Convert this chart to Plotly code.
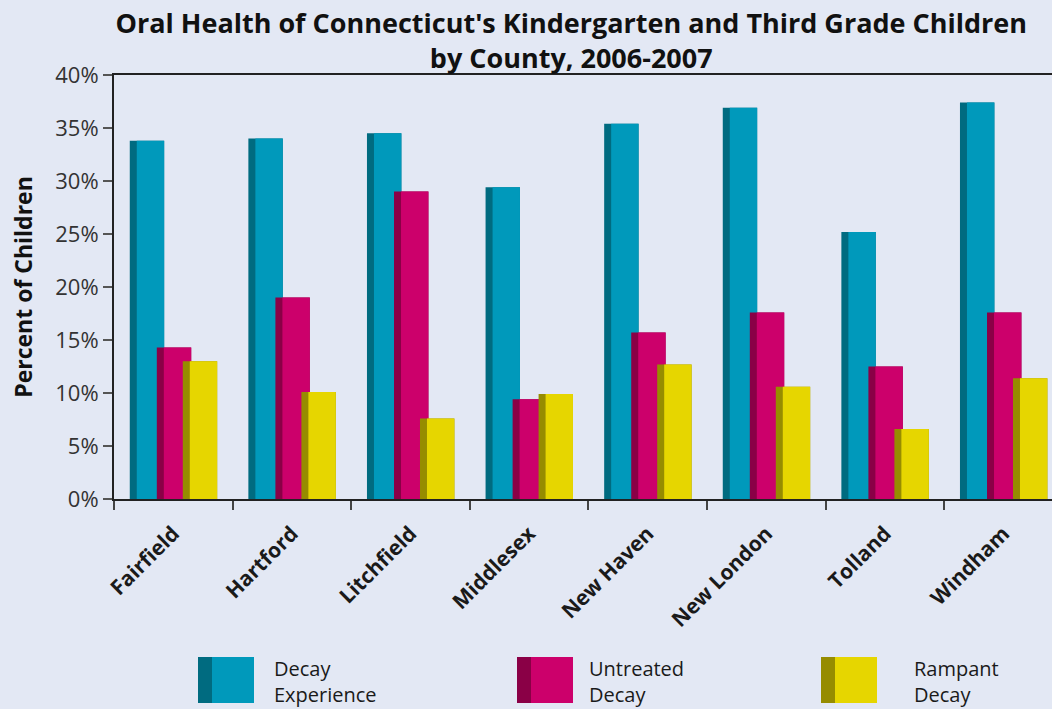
import plotly.graph_objects as go

# Datos (porcentaje de niños)
counties = ["Fairfield", "Hartford", "Litchfield", "Middlesex",
            "New Haven", "New London", "Tolland", "Windham"]
decay_experience = [33.8, 34.0, 34.5, 29.4, 35.4, 36.9, 25.2, 37.4]
untreated_decay = [14.3, 19.0, 29.0, 9.4, 15.7, 17.6, 12.5, 17.6]
rampant_decay = [13.0, 10.1, 7.6, 9.9, 12.7, 10.6, 6.6, 11.4]
y_ticks = [0, 5, 10, 15, 20, 25, 30, 35, 40]
y_tick_labels = [f"{v}%" for v in y_ticks]

BG = "#E3E8F4"
FONT = "Open Sans, Noto Sans, sans-serif"

# (nombre, valores, color claro, color oscuro, desplazamiento)
series = [
    ("Decay<br>Experience", decay_experience, "#0099BB", "#006B80", -0.367),
    ("Untreated<br>Decay", untreated_decay, "#CC006B", "#8A0046", -0.139),
    ("Rampant<br>Decay", rampant_decay, "#E6D600", "#968C00", 0.080),
]
BAR_W = 0.290   # ancho total de la barra (en unidades de categoría)
SIDE_W = 0.059  # cara lateral oscura

x = list(range(len(counties)))
fig = go.Figure()

for name, vals, light, dark, off in series:
    # cara lateral oscura (barra completa debajo)
    fig.add_trace(go.Bar(
        x=x, y=vals, offset=off, width=BAR_W,
        marker=dict(color=dark, line=dict(width=0)),
        showlegend=False, hoverinfo="skip"
    ))
    # cara frontal clara
    fig.add_trace(go.Bar(
        x=x, y=vals, offset=off + SIDE_W, width=BAR_W - SIDE_W,
        marker=dict(color=light, line=dict(width=0)),
        name=name, showlegend=False
    ))

W, H = 1052, 709
L, T, B = 114, 75, 210


def px_x(p):
    return (p - L) / (W - L)


def px_y(p):
    return (H - B - p) / (H - T - B)


# Leyenda dibujada a mano (cuadro bicolor + texto en dos líneas)
legend_x = [198, 517, 821]
legend_text_x = [272, 587, 912]
shapes = []
annotations = []
for (label, _, light, dark, _), lx, tx in zip(series, legend_x, legend_text_x):
    shapes.append(dict(type="rect", xref="paper", yref="paper",
                       x0=px_x(lx), x1=px_x(lx + 14), y0=px_y(703), y1=px_y(657),
                       fillcolor=dark, line=dict(width=0)))
    shapes.append(dict(type="rect", xref="paper", yref="paper",
                       x0=px_x(lx + 14), x1=px_x(lx + 56), y0=px_y(703), y1=px_y(657),
                       fillcolor=light, line=dict(width=0)))
    annotations.append(dict(
        xref="paper", yref="paper", x=px_x(tx), y=px_y(681),
        xanchor="left", yanchor="middle", align="left",
        text=label, showarrow=False,
        font=dict(family=FONT, size=20, color="#1a1a1a")
    ))

fig.update_layout(
    width=W, height=H,
    barmode="overlay",
    paper_bgcolor=BG, plot_bgcolor=BG,
    margin=dict(l=L, r=0, t=T, b=B),
    title=dict(
        text="Oral Health of Connecticut's Kindergarten and Third Grade Children<br>by County, 2006-2007",
        x=0.543, xanchor="center", y=1 - 33 / H, yanchor="middle",
        font=dict(family=FONT, size=27, color="#111111", weight="bold")
    ),
    font=dict(family=FONT),
    shapes=shapes,
    annotations=annotations,
    showlegend=False,
)

fig.update_xaxes(
    range=[-0.5, -0.5 + (W - L) / 118.6],
    tickmode="array", tickvals=x, ticktext=counties,
    tickangle=-45, ticklabelstandoff=12,
    tickfont=dict(family=FONT, size=21, color="#1a1a1a", weight="bold"),
    ticks="", showgrid=False, zeroline=False,
    showline=True, linecolor="#222222", linewidth=2, mirror=True,
    minor=dict(ticks="outside", tickvals=[i - 0.5 for i in range(9)],
               ticklen=9, tickwidth=2, tickcolor="#444444"),
)

fig.update_yaxes(
    range=[0, 40], tickmode="array", tickvals=y_ticks, ticktext=y_tick_labels,
    tickfont=dict(family=FONT, size=22, color="#333333"),
    ticks="outside", ticklen=9, tickwidth=2, tickcolor="#555555",
    showgrid=False, zeroline=False,
    showline=True, linecolor="#222222", linewidth=2,
    title=dict(text="Percent of Children", standoff=16,
               font=dict(family=FONT, size=23, color="#111111", weight="bold")),
)

fig.write_html(
    "out.html",
    config={"displayModeBar": False},
    post_script="document.body.style.margin='0';document.body.style.overflow='hidden';",
)
